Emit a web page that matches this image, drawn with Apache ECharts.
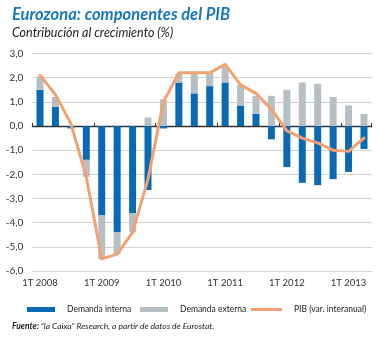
<!DOCTYPE html>
<html>
<head>
<meta charset="utf-8">
<script src="https://cdn.jsdelivr.net/npm/echarts@6/dist/echarts.min.js"></script>
<style>
html,body{margin:0;padding:0;background:#fff;}
#c{width:382px;height:338px;}
</style>
</head>
<body>
<div id="c"></div>
<script>
var categories = ['1T 2008','2T 2008','3T 2008','4T 2008',
  '1T 2009','2T 2009','3T 2009','4T 2009',
  '1T 2010','2T 2010','3T 2010','4T 2010',
  '1T 2011','2T 2011','3T 2011','4T 2011',
  '1T 2012','2T 2012','3T 2012','4T 2012',
  '1T 2013','2T 2013'];
var demandaInterna = [1.5, 0.8, -0.1, -1.4, -3.7, -4.4, -3.6, -2.65, -0.1, 1.8, 1.35, 1.65, 1.8, 0.85, 0.5, -0.55, -1.7, -2.35, -2.45, -2.2, -1.9, -0.95];
var demandaExterna = [0.55, 0.4, 0, -0.7, -1.8, -0.9, -0.8, 0.35, 1.1, 0.35, 0.8, 0.55, 0.65, 0.85, 0.75, 1.25, 1.5, 1.8, 1.75, 1.2, 0.85, 0.5];
var pib = [2.1, 1.3, 0.1, -2.1, -5.5, -5.3, -4.4, -2.2, 1.0, 2.2, 2.2, 2.2, 2.55, 1.7, 1.35, 0.7, -0.2, -0.5, -0.7, -1.0, -1.05, -0.5];
var yTicks = {min: -6, max: 3, interval: 1};

var FONT = 'Lato, "Open Sans", sans-serif';
var chart = echarts.init(document.getElementById('c'), null, {renderer: 'canvas'});
var legendText = {fontFamily: FONT, fontSize: 8.5, color: '#222', padding: [0, 0, 0, 7]};
chart.setOption({
  animation: false,
  title: [
    {text: 'Eurozona: componentes del PIB', left: 7, top: 1,
     textStyle: {fontFamily: FONT, fontSize: 16.5, fontWeight: 'bold', fontStyle: 'italic', color: '#1878bf'}},
    {text: 'Contribución al crecimiento (%)', left: 7, top: 21,
     textStyle: {fontFamily: FONT, fontSize: 12.5, fontWeight: 'normal', fontStyle: 'italic', color: '#222'}},
    {text: '{b|Fuente:} “la Caixa” Research, a partir de datos de Eurostat.', left: 7, top: 317,
     textStyle: {fontFamily: FONT, fontSize: 8.5, fontWeight: 'normal', fontStyle: 'italic', color: '#222',
       rich: {b: {fontFamily: FONT, fontSize: 8.5, fontWeight: 'bold', fontStyle: 'italic', color: '#222'}}}}
  ],
  legend: [
    {data: [{name: 'Demanda interna', icon: 'rect'}], left: 22, top: 300, itemWidth: 28, itemHeight: 5, textStyle: legendText},
    {data: [{name: 'Demanda externa', icon: 'rect'}], left: 135, top: 300, itemWidth: 28, itemHeight: 5, textStyle: legendText},
    {data: [{name: 'PIB (var. interanual)', icon: 'rect'}], left: 246, top: 300, itemWidth: 31, itemHeight: 3, textStyle: legendText}
  ],
  grid: {left: 32.3, top: 53.5, width: 339.4, height: 217.5, containLabel: false},
  xAxis: [
    {type: 'category', data: categories, position: 'bottom',
     axisLine: {show: false, onZero: false}, axisTick: {show: false},
     axisLabel: {interval: 3, margin: 7, fontFamily: FONT, fontSize: 9.5, color: '#333'},
     splitLine: {show: false}},
    {type: 'category', data: categories, position: 'bottom',
     axisLine: {show: true, onZero: true, lineStyle: {color: '#333', width: 1.3}},
     axisTick: {show: true, inside: true, length: 3, interval: 3, lineStyle: {color: '#333', width: 1}},
     axisLabel: {show: false}, splitLine: {show: false}}
  ],
  yAxis: {type: 'value', min: yTicks.min, max: yTicks.max, interval: yTicks.interval,
    axisLine: {show: false}, axisTick: {show: false},
    axisLabel: {margin: 9, fontFamily: FONT, fontSize: 10, color: '#333',
      formatter: function (v) { return v.toFixed(1).replace('.', ','); }},
    splitLine: {lineStyle: {color: '#d2d2d2', width: 1}}},
  series: [
    {name: 'Demanda interna', type: 'bar', stack: 'tot', barWidth: 7, data: demandaInterna,
     itemStyle: {color: '#0a69b3'}},
    {name: 'Demanda externa', type: 'bar', stack: 'tot', barWidth: 7, data: demandaExterna,
     itemStyle: {color: '#b6bfc3'}},
    {name: 'PIB (var. interanual)', type: 'line', data: pib, symbol: 'none',
     lineStyle: {color: '#f4a070', width: 3, cap: 'round', join: 'round'}, itemStyle: {color: '#f4a070'}, z: 5}
  ]
});
</script>
</body>
</html>
